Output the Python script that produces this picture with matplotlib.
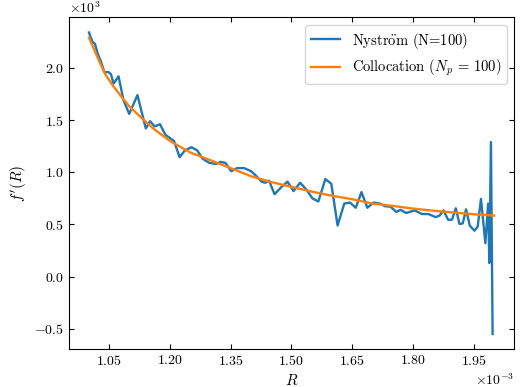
import numpy as np
import matplotlib.pyplot as plt

plt.rcParams['font.family'] = ['cmr10', 'DejaVu Serif']
plt.rcParams['mathtext.fontset'] = 'cm'
plt.rcParams['axes.formatter.use_mathtext'] = True
plt.rcParams['axes.unicode_minus'] = True
plt.rcParams['font.size'] = 10



# [Data]______________________________________________________________________________________________________________

# Nystroem solution on the quadrature nodes (R in 1e-3, f' in 1e3)
R_nys = [1.0000, 1.0033, 1.0089, 1.0148, 1.0212, 1.0296, 1.0377, 1.0483, 1.0542, 1.0606,
         1.0729, 1.0852, 1.0992, 1.1196, 1.1402, 1.1508, 1.1619, 1.1754, 1.1884, 1.2098,
         1.2238, 1.2369, 1.2529, 1.2671, 1.2804, 1.2971, 1.3143, 1.3247, 1.3369, 1.3512,
         1.3655, 1.3832, 1.4004, 1.4114, 1.4262, 1.4353, 1.4446, 1.4582, 1.4754, 1.4901,
         1.5049, 1.5214, 1.5376, 1.5516, 1.5663, 1.5836, 1.5983, 1.6138, 1.6303, 1.6443,
         1.6586, 1.6728, 1.6873, 1.7028, 1.7181, 1.7304, 1.7446, 1.7589, 1.7692, 1.7835,
         1.8041, 1.8221, 1.8381, 1.8558, 1.8656, 1.8754, 1.8867, 1.8963, 1.9057, 1.9148,
         1.9229, 1.9310, 1.9401, 1.9519, 1.9598, 1.9679, 1.9787, 1.9856, 1.9885, 1.9925,
         1.9966]
f_nys = [2.34, 2.30, 2.25, 2.23, 2.14, 2.06, 1.96, 1.96, 1.94, 1.85,
         1.92, 1.69, 1.56, 1.74, 1.42, 1.49, 1.44, 1.46, 1.36, 1.30,
         1.145, 1.21, 1.24, 1.21, 1.13, 1.09, 1.08, 1.10, 1.09, 1.01,
         1.04, 1.04, 1.01, 0.97, 0.91, 0.90, 0.92, 0.79, 0.86, 0.91,
         0.82, 0.90, 0.83, 0.75, 0.72, 0.935, 0.89, 0.49, 0.70, 0.71,
         0.66, 0.81, 0.66, 0.71, 0.70, 0.675, 0.67, 0.62, 0.64, 0.61,
         0.635, 0.60, 0.60, 0.57, 0.585, 0.635, 0.545, 0.545, 0.655, 0.505,
         0.51, 0.645, 0.49, 0.44, 0.48, 0.745, 0.32, 0.70, 0.13, 1.29,
         -0.55]

# collocation solution
R_col = [1.00, 1.02, 1.04, 1.06, 1.08, 1.10, 1.13, 1.16, 1.20, 1.25,
         1.30, 1.35, 1.40, 1.45, 1.50, 1.55, 1.60, 1.65, 1.70, 1.75,
         1.80, 1.85, 1.90, 1.95, 2.00]
f_col = [2.29, 2.11, 1.94, 1.825, 1.725, 1.63, 1.52, 1.415, 1.30, 1.19,
         1.115, 1.04, 0.962, 0.906, 0.86, 0.815, 0.775, 0.742, 0.70, 0.678,
         0.652, 0.632, 0.614, 0.598, 0.585]

R_ticks = [1.05, 1.20, 1.35, 1.50, 1.65, 1.80, 1.95]



# [Plot]______________________________________________________________________________________________________________

fig = plt.figure(figsize = (5.21, 3.87), dpi = 100)
plt.subplots_adjust(left = 0.132, right = 0.987, bottom = 0.098, top = 0.955)

plt.plot(np.array(R_nys) * 1e-3, np.array(f_nys) * 1e3, color = "tab:blue", lw = 1.7, label = r"Nystr$\ddot{\rm o}$m (N=100)")
plt.plot(np.array(R_col) * 1e-3, np.array(f_col) * 1e3, color = "tab:orange", lw = 1.7, label = r"Collocation ($N_p$ = 100)")

ax = plt.gca()
ax.ticklabel_format(style = "sci", axis = "both", scilimits = (0, 0))
plt.xticks(np.array(R_ticks) * 1e-3)
plt.yticks(np.arange(-0.5, 2.01, 0.5) * 1e3)
ax.tick_params(direction = "in", top = True, right = True)

plt.xlabel("$R$", fontsize = 11)
plt.ylabel("$f'(R)$", fontsize = 11)
plt.legend(loc = "upper right", fontsize = 10.5)
plt.savefig("out.png", dpi = 100)
